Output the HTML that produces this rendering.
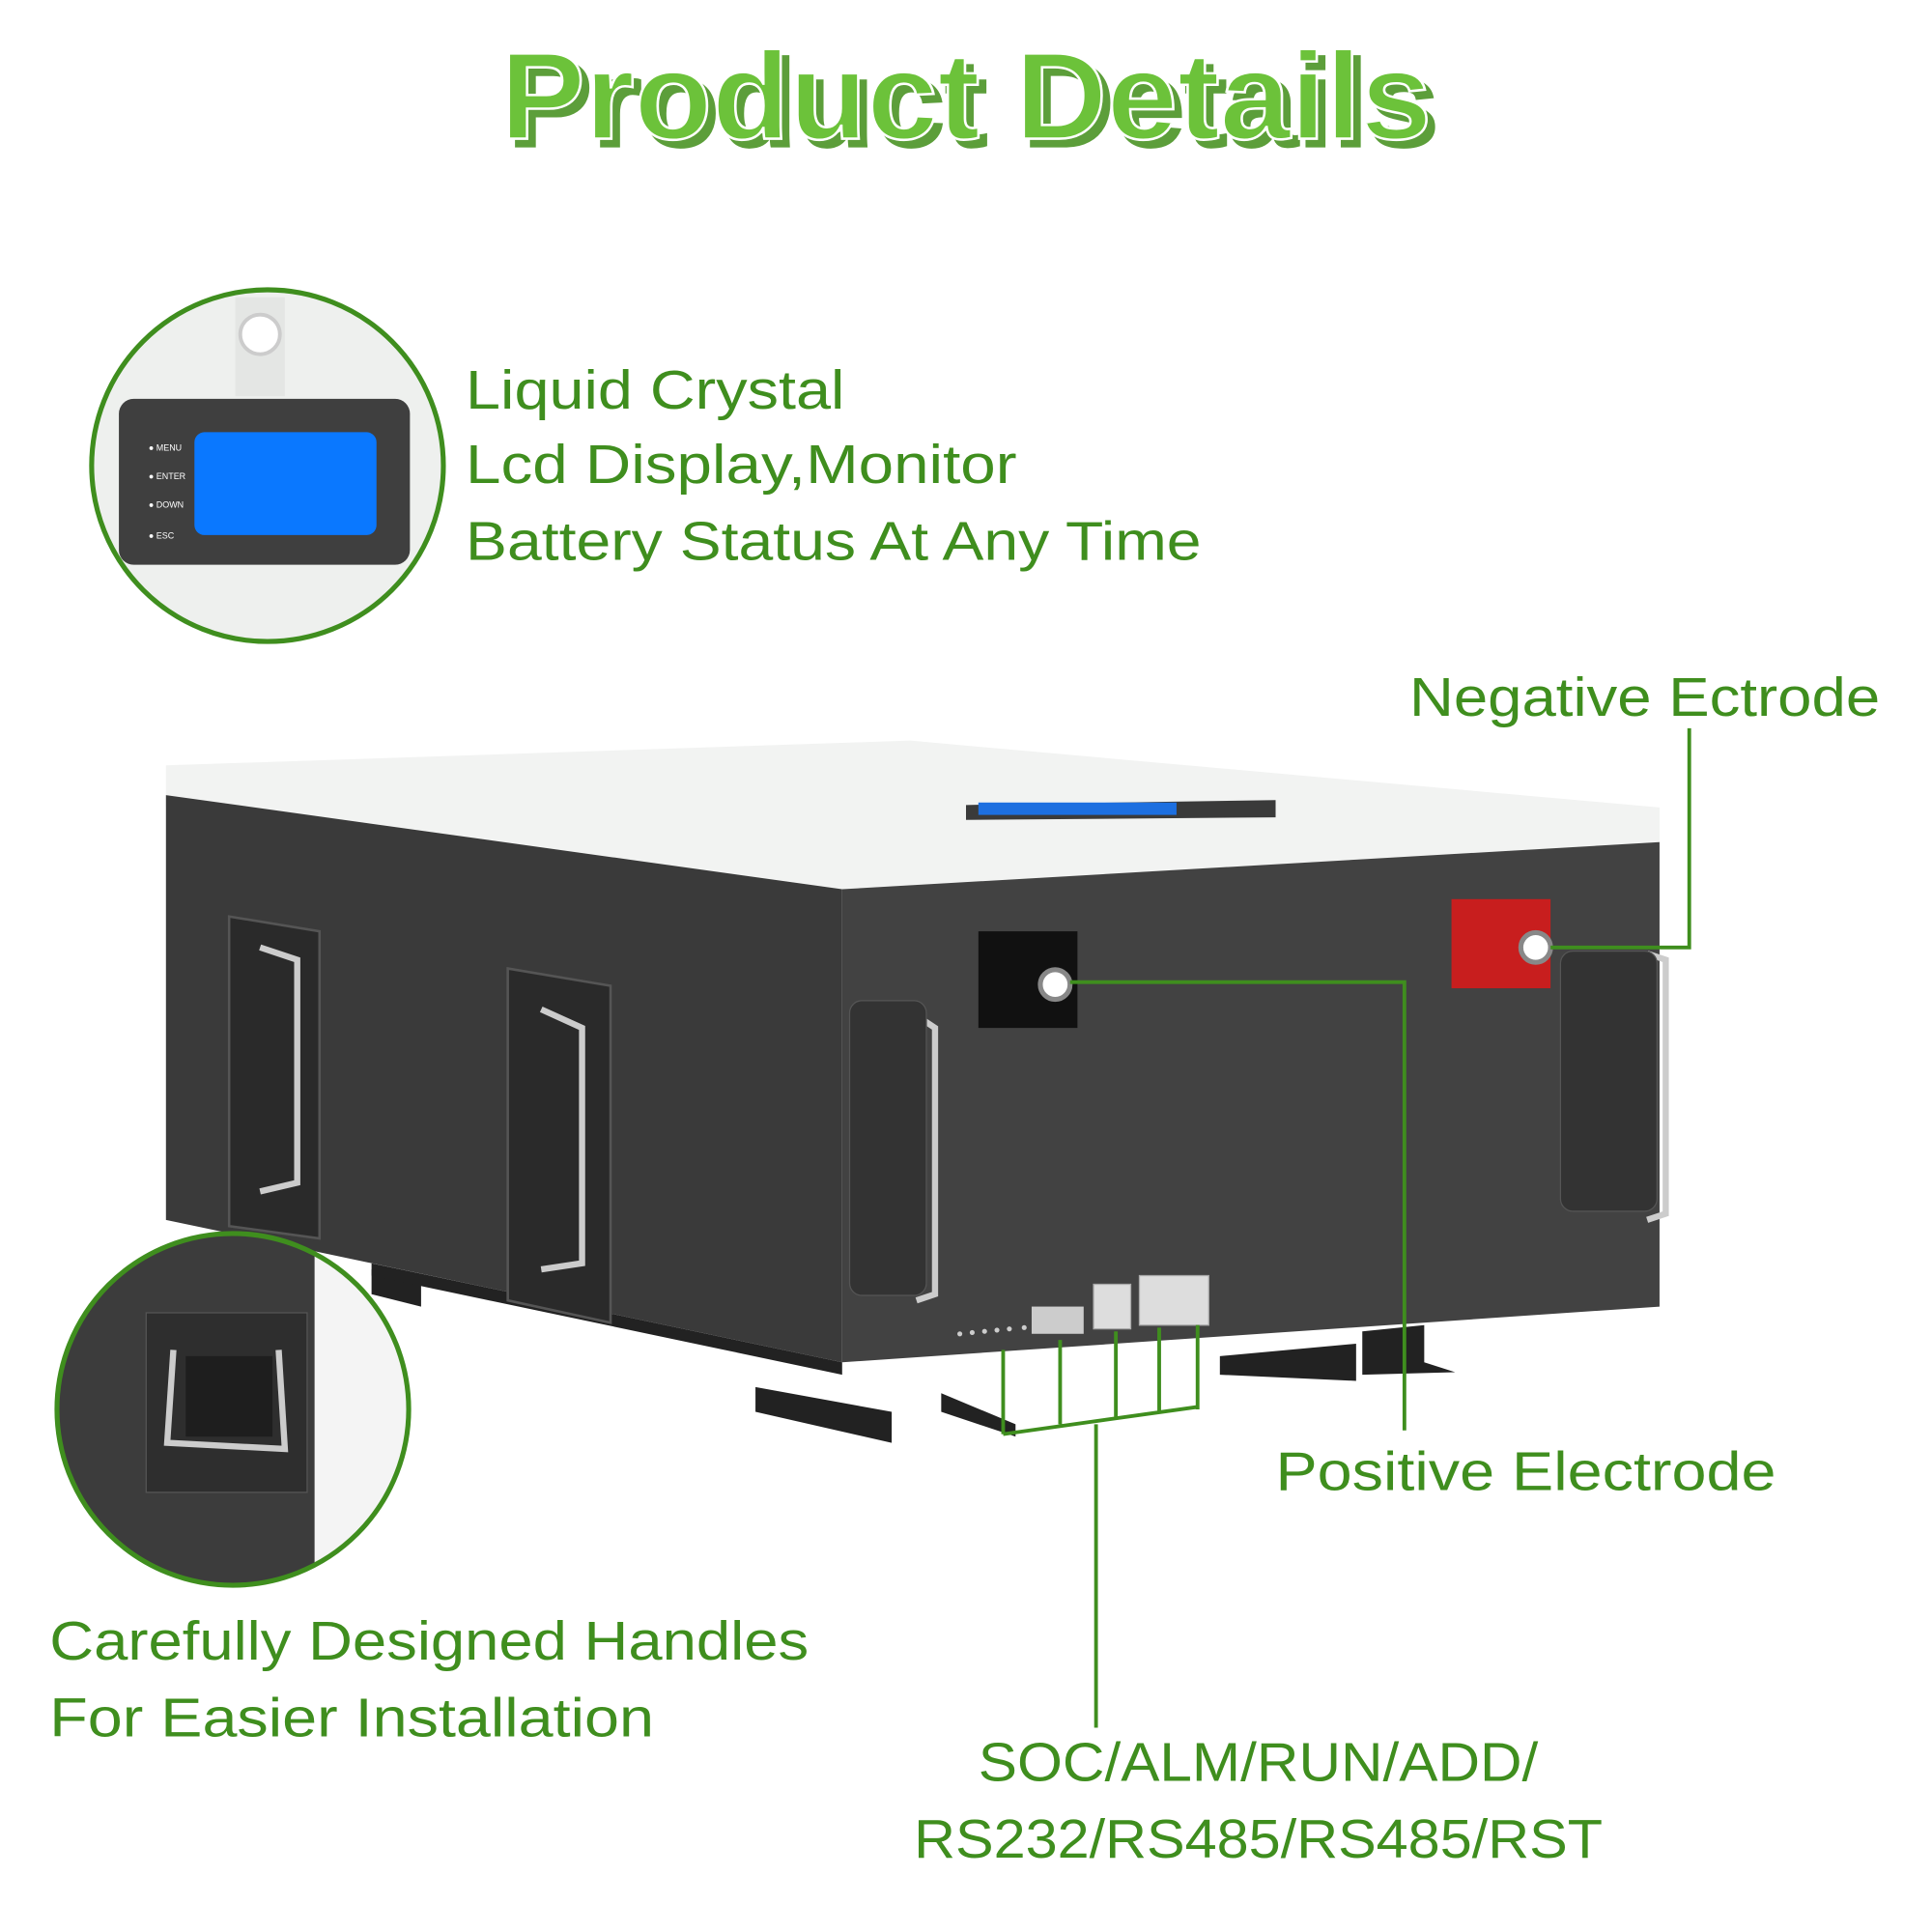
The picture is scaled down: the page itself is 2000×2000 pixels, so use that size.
<!DOCTYPE html>
<html><head><meta charset="utf-8"><style>
html,body{margin:0;padding:0;background:#fff}
svg{display:block}
text{font-family:"Liberation Sans","DejaVu Sans",sans-serif}
</style></head><body>
<svg width="2000" height="2000" viewBox="0 0 1560 1560" xmlns="http://www.w3.org/2000/svg">
<rect width="1560" height="1560" fill="#fff"/>
<text x="786" y="118" text-anchor="middle" font-size="100" font-weight="bold" fill="#5c9e3a" stroke="#5c9e3a" stroke-width="2" textLength="752" lengthAdjust="spacingAndGlyphs">Product Details</text>
<text x="780" y="112" text-anchor="middle" font-size="100" font-weight="bold" fill="#6cc23a" stroke="#fff" stroke-width="2" textLength="752" lengthAdjust="spacingAndGlyphs">Product Details</text>

<defs>
<clipPath id="c1"><circle cx="216" cy="376" r="142"/></clipPath>
<clipPath id="c2"><circle cx="188" cy="1138" r="142"/></clipPath>
</defs>
<circle cx="216" cy="376" r="142" fill="#eef0ee"/>
<g clip-path="url(#c1)">
<rect x="190" y="240" width="40" height="80" fill="#e4e6e4"/>
<circle cx="210" cy="270" r="16" fill="#fff" stroke="#ccc" stroke-width="3"/>
<rect x="96" y="322" width="235" height="134" rx="12" fill="#3f3f3f"/>
<rect x="157" y="349" width="147" height="83" rx="8" fill="#0a78ff"/>
<g font-size="7" fill="#fff"><text x="120" y="364">● MENU</text><text x="120" y="387">● ENTER</text><text x="120" y="410">● DOWN</text><text x="120" y="435">● ESC</text></g>
</g>
<circle cx="216" cy="376" r="142" fill="none" stroke="#3f8e1e" stroke-width="4"/>
<g font-size="44" fill="#3f8e1e">
<text x="376" y="330" textLength="306" lengthAdjust="spacingAndGlyphs">Liquid Crystal</text>
<text x="376" y="390" textLength="445" lengthAdjust="spacingAndGlyphs">Lcd Display,Monitor</text>
<text x="376" y="452" textLength="594" lengthAdjust="spacingAndGlyphs">Battery Status At Any Time</text>
</g>

<!-- feet -->
<g fill="#222">
<polygon points="300,1025 340,1030 340,1055 300,1045"/>
<polygon points="610,1120 720,1140 720,1165 610,1140"/>
<polygon points="760,1125 820,1150 820,1160 760,1140"/>
<polygon points="985,1095 1095,1085 1095,1115 985,1110"/>
<polygon points="1100,1075 1150,1070 1150,1100 1175,1108 1100,1110"/>
<polygon points="300,1020 680,1100 680,1110 300,1030"/>
</g>
<polygon points="134,618 735,598 1340,652 1340,680 680,718 134,642" fill="#f2f3f2"/>
<polygon points="134,642 680,718 680,1100 134,985" fill="#3a3a3a"/>
<polygon points="680,718 1340,680 1340,1055 680,1100" fill="#424242"/>
<polygon points="780,650 1030,646 1030,660 780,662" fill="#3a3a3a"/>
<rect x="790" y="648" width="160" height="10" fill="#1d6fe0"/>
<g fill="#2a2a2a" stroke="#555" stroke-width="2">
<polygon points="185,740 258,752 258,1000 185,990"/>
<polygon points="410,782 493,796 493,1068 410,1050"/>
</g>
<g fill="none" stroke="#ccc" stroke-width="5">
<path d="M210,765 L240,775 L240,955 L210,962"/>
<path d="M437,815 L470,830 L470,1020 L437,1025"/>
<path d="M740,820 L755,830 L755,1045 L740,1050"/>
<path d="M1330,770 L1345,775 L1345,980 L1330,985"/>
</g>
<rect x="686" y="808" width="62" height="238" rx="10" fill="#333" stroke="#555"/>
<rect x="1260" y="768" width="78" height="210" rx="10" fill="#333" stroke="#555"/>
<rect x="790" y="752" width="80" height="78" fill="#111"/>
<circle cx="852" cy="795" r="12" fill="#fff" stroke="#888" stroke-width="4"/>
<rect x="1172" y="726" width="80" height="72" fill="#c81e1e"/>
<circle cx="1240" cy="765" r="12" fill="#fff" stroke="#888" stroke-width="4"/>
<rect x="833" y="1055" width="42" height="22" fill="#ccc"/>
<rect x="883" y="1037" width="30" height="36" fill="#ddd" stroke="#aaa"/>
<rect x="920" y="1030" width="56" height="40" fill="#ddd" stroke="#aaa"/>
<g fill="#ccc"><circle cx="775" cy="1077" r="2"/><circle cx="785" cy="1076" r="2"/><circle cx="795" cy="1075" r="2"/><circle cx="805" cy="1074" r="2"/><circle cx="815" cy="1073" r="2"/><circle cx="827" cy="1072" r="2"/></g>

<g fill="none" stroke="#3f8e1e" stroke-width="3">
<polyline points="864,793 1134,793 1134,1155"/>
<polyline points="1252,765 1364,765 1364,588"/>
<path d="M810,1090 V1158 M856,1082 V1150 M901,1075 V1145 M936,1072 V1140 M967,1070 V1138 M810,1158 L967,1136 M885,1150 V1395"/>
</g>
<g font-size="44" fill="#3f8e1e">
<text x="1138" y="578" textLength="380" lengthAdjust="spacingAndGlyphs">Negative Ectrode</text>
<text x="1030" y="1203" textLength="404" lengthAdjust="spacingAndGlyphs">Positive Electrode</text>
<text x="790" y="1438" textLength="452" lengthAdjust="spacingAndGlyphs">SOC/ALM/RUN/ADD/</text>
<text x="738" y="1500" textLength="556" lengthAdjust="spacingAndGlyphs">RS232/RS485/RS485/RST</text>
<text x="40" y="1340" textLength="613" lengthAdjust="spacingAndGlyphs">Carefully Designed Handles</text>
<text x="40" y="1402" textLength="488" lengthAdjust="spacingAndGlyphs">For Easier Installation</text>
</g>

<circle cx="188" cy="1138" r="142" fill="#f4f4f4"/>
<g clip-path="url(#c2)">
<rect x="46" y="996" width="208" height="290" fill="#3c3c3c"/>
<rect x="118" y="1060" width="130" height="145" fill="#2e2e2e" stroke="#555"/>
<path d="M140,1090 L135,1165 L230,1170 L225,1090" fill="none" stroke="#ccc" stroke-width="5"/>
<rect x="150" y="1095" width="70" height="65" fill="#1e1e1e"/>
</g>
<circle cx="188" cy="1138" r="142" fill="none" stroke="#3f8e1e" stroke-width="4"/>
</svg>
</body></html>
